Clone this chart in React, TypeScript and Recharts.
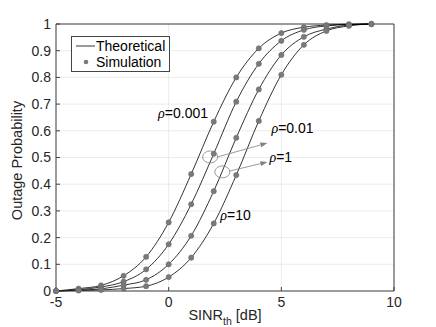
import {
  CartesianGrid,
  Legend,
  Line,
  LineChart,
  ReferenceDot,
  ReferenceLine,
  XAxis,
  YAxis,
} from 'recharts';

const sinr = [-5, -4, -3, -2, -1, 0, 1, 2, 3, 4, 5, 6, 7, 8, 9];
const rho0001 = [0, 0.009, 0.021, 0.057, 0.128, 0.257, 0.438, 0.634, 0.8, 0.909, 0.966, 0.988, 0.996, 0.999, 1.0];
const rho001 = [0, 0.005, 0.015, 0.035, 0.081, 0.175, 0.325, 0.514, 0.709, 0.851, 0.937, 0.978, 0.993, 0.998, 1.0];
const rho1 = [0, 0.003, 0.008, 0.022, 0.042, 0.1, 0.207, 0.374, 0.574, 0.755, 0.884, 0.952, 0.981, 0.996, 1.0];
const rho10 = [0, 0.002, 0.004, 0.009, 0.018, 0.052, 0.125, 0.253, 0.434, 0.637, 0.81, 0.922, 0.974, 0.993, 1.0];

const xTicks = [-5, 0, 5, 10];
const yTicks = [0, 0.1, 0.2, 0.3, 0.4, 0.5, 0.6, 0.7, 0.8, 0.9, 1];

// curve labels: [x, y, text]
const rhoLabels: [number, number, string][] = [
  [-0.47, 0.667, '0.001'],
  [4.56, 0.61, '0.01'],
  [4.47, 0.5, '1'],
  [2.29, 0.285, '10'],
];

const data = sinr.map((x, i) => ({
  x,
  a: rho0001[i],
  b: rho001[i],
  c: rho1[i],
  d: rho10[i],
}));

const FONT = '"Liberation Sans", Arial, sans-serif';
const INK = '#262626';
const FRAME = '#404040';
const GRAYMARK = '#7a7a7a';

const dotStyle = { r: 2.6, fill: GRAYMARK, stroke: '#6a6a6a', strokeWidth: 0.6 };

const Arrow = (props: any) => {
  const { x1, y1, x2, y2 } = props;
  const ang = Math.atan2(y2 - y1, x2 - x1);
  const len = 7;
  const w = 2.5;
  const bx = x2 - len * Math.cos(ang);
  const by = y2 - len * Math.sin(ang);
  const px = -Math.sin(ang) * w;
  const py = Math.cos(ang) * w;
  return (
    <g>
      <line x1={x1} y1={y1} x2={bx} y2={by} stroke="#808080" strokeWidth={0.8} />
      <polygon
        points={`${x2},${y2} ${bx + px},${by + py} ${bx - px},${by - py}`}
        fill="#808080"
      />
    </g>
  );
};

const Ellipse = (props: any) => (
  <ellipse cx={props.cx} cy={props.cy} rx={7.5} ry={6} fill="none" stroke="#808080" strokeWidth={0.8} />
);

const rhoShape = (value: string) => (props: any) => (
  <text x={props.cx} y={props.cy} dy="0.35em" fontSize={14} fontFamily={FONT} fill="#000">
    <tspan fontFamily='"Liberation Serif", serif' fontStyle="italic">ρ</tspan>={value}
  </text>
);

const LegendBox = () => (
  <div
    style={{
      border: '1px solid #444',
      background: '#fff',
      padding: '1px 4px 1px 3px',
      fontFamily: FONT,
      fontSize: 14,
      lineHeight: '16px',
      color: '#000',
    }}
  >
    <div style={{ display: 'flex', alignItems: 'center' }}>
      <svg width={20} height={10}>
        <line x1={1} y1={5} x2={20} y2={5} stroke="#000" strokeWidth={0.8} />
      </svg>
      <span style={{ marginLeft: 1 }}>Theoretical</span>
    </div>
    <div style={{ display: 'flex', alignItems: 'center' }}>
      <svg width={20} height={10}>
        <circle cx={11} cy={5} r={2.3} fill={GRAYMARK} />
      </svg>
      <span style={{ marginLeft: 1 }}>Simulation</span>
    </div>
  </div>
);

const YLabel = (props: any) => {
  const vb = props.viewBox;
  const cy = vb.y + vb.height / 2 + 3;
  return (
    <text x={17} y={cy} transform={`rotate(-90 17 ${cy})`} textAnchor="middle" dy="0.35em" fontSize={14.5} fontFamily={FONT} fill={INK}>
      Outage Probability
    </text>
  );
};

const XLabel = (props: any) => {
  const vb = props.viewBox;
  const cx = vb.x + vb.width / 2;
  return (
    <text x={cx} y={320} textAnchor="middle" fontSize={14.5} fontFamily={FONT} fill={INK}>
      SINR
      <tspan dy={5} fontSize={10.5}>th</tspan>
      <tspan dy={-5}> [dB]</tspan>
    </text>
  );
};

const tickStyle = { fontSize: 14, fontFamily: FONT, fill: INK };

export default function App() {
  return (
    <div style={{ position: 'absolute', left: 0, top: 0, background: '#fff' }}>
      <LineChart width={436} height={327} data={data} margin={{ top: 24, right: 42, bottom: 0, left: 0 }}>
        <CartesianGrid stroke="#e6e6e6" strokeWidth={0.8} />
        <XAxis
          dataKey="x"
          type="number"
          domain={[-5, 10]}
          ticks={xTicks}
          height={36}
          stroke={FRAME}
          tickSize={-4}
          tickMargin={10}
          tick={tickStyle}
          label={<XLabel />}
        />
        <XAxis
          xAxisId="top"
          dataKey="x"
          type="number"
          orientation="top"
          domain={[-5, 10]}
          ticks={xTicks}
          height={0}
          mirror
          tick={false}
          tickSize={4}
          stroke={FRAME}
        />
        <YAxis
          type="number"
          domain={[0, 1]}
          ticks={yTicks}
          width={56}
          stroke={FRAME}
          tickSize={-4}
          tickMargin={9}
          tick={tickStyle}
          label={<YLabel />}
        />
        <YAxis
          yAxisId="right"
          orientation="right"
          type="number"
          domain={[0, 1]}
          ticks={yTicks}
          width={0}
          mirror
          tick={false}
          tickSize={4}
          stroke={FRAME}
        />
        <ReferenceLine y={1} stroke={FRAME} strokeWidth={1} />
        <ReferenceLine x={10} stroke={FRAME} strokeWidth={1} />
        <Legend
          layout="vertical"
          align="center"
          verticalAlign="middle"
          wrapperStyle={{ left: 71, top: 36, width: 'auto', height: 'auto' }}
          content={<LegendBox />}
        />
        <Line type="monotone" dataKey="a" stroke="#000" strokeWidth={0.8} dot={dotStyle} isAnimationActive={false} />
        <Line type="monotone" dataKey="b" stroke="#000" strokeWidth={0.8} dot={dotStyle} isAnimationActive={false} />
        <Line type="monotone" dataKey="c" stroke="#000" strokeWidth={0.8} dot={dotStyle} isAnimationActive={false} />
        <Line type="monotone" dataKey="d" stroke="#000" strokeWidth={0.8} dot={dotStyle} isAnimationActive={false} />
        <ReferenceDot x={1.84} y={0.502} shape={Ellipse} />
        <ReferenceDot x={2.38} y={0.446} shape={Ellipse} />
        <ReferenceLine segment={[{ x: 2.16, y: 0.502 }, { x: 4.38, y: 0.554 }]} shape={Arrow} />
        <ReferenceLine segment={[{ x: 2.69, y: 0.449 }, { x: 4.38, y: 0.483 }]} shape={Arrow} />
        {rhoLabels.map(([x, y, t]) => (
          <ReferenceDot key={t} x={x} y={y} shape={rhoShape(t)} />
        ))}
      </LineChart>
    </div>
  );
}
